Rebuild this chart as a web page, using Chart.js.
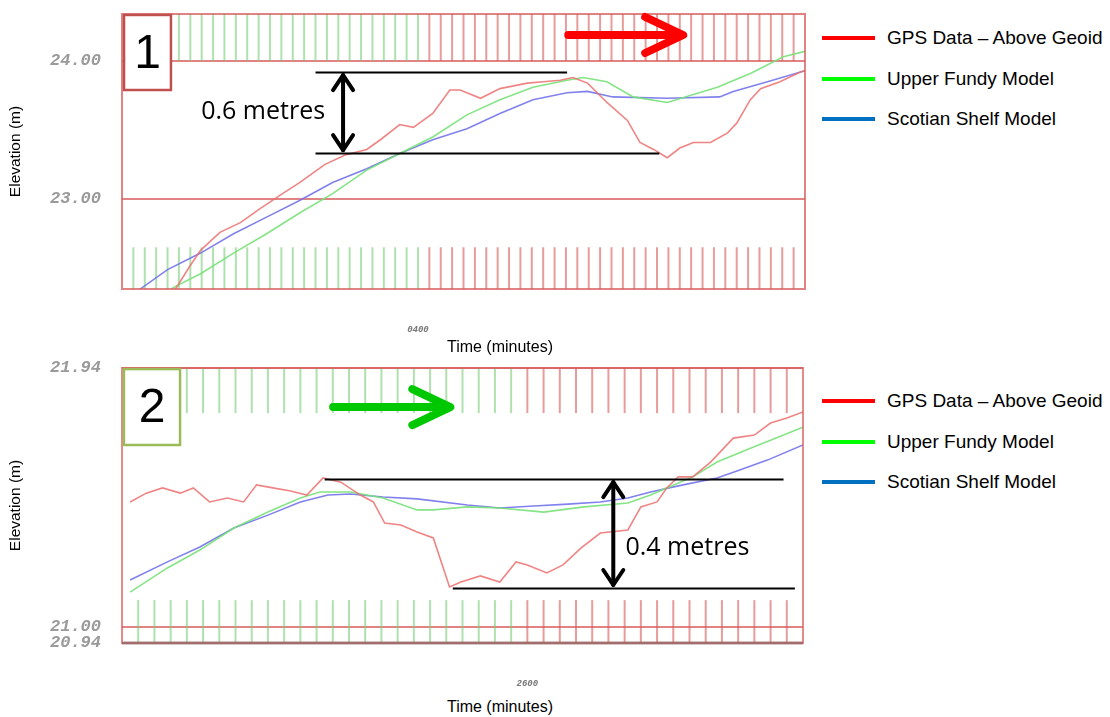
<!DOCTYPE html>
<html>
<head>
<meta charset="UTF-8">
<title>GPS elevation vs tide models</title>
<style>
    body {
        margin: 0;
        background: #fff;
        font-family: 'Liberation Sans', Arial, sans-serif;
    }
    #page {
        position: relative;
        width: 1110px;
        height: 717px;
        overflow: hidden;
    }
    .chartBox {
        position: absolute;
        left: 0;
        width: 810px;
        height: 339px;
    }
    .xTitle {
        position: absolute;
        font-size: 16px;
        transform: translate(-50%, -50%);
        white-space: nowrap;
    }
    .legend {
        position: absolute;
        left: 822px;
    }
    .legend .row {
        display: flex;
        align-items: center;
        height: 40.5px;
        font-size: 19px;
        white-space: nowrap;
    }
    .legend .swatch {
        width: 53px;
        height: 4px;
        margin-right: 12px;
    }
</style>
<script src="https://cdn.jsdelivr.net/npm/chart.js"></script>
</head>
<body>

<div id="page">
    <div class="chartBox" style="top:0px"><canvas id="chartTop"></canvas></div>
    <div class="chartBox" style="top:354px"><canvas id="chartBottom"></canvas></div>
    <div class="xTitle" style="left:500px; top:347px">Time (minutes)</div>
    <div class="xTitle" style="left:500px; top:707px">Time (minutes)</div>
    <div class="legend" id="legendTop" style="top:17.75px"></div>
    <div class="legend" id="legendBottom" style="top:380.75px"></div>
</div>

<script>
const seriesNames = ['GPS Data – Above Geoid', 'Upper Fundy Model', 'Scotian Shelf Model'];

// chart 1
const topGpsTime   = [3.8, 4.7, 6.0, 6.9, 8.6, 10.4, 12.1, 14.1, 15.6, 17.8, 19.6, 21.5, 22.7, 24.4, 25.6, 27.3, 28.8, 29.7, 31.5, 33.2,
                      35.6, 37.0, 38.5, 39.6, 40.9, 42.6, 44.4, 45.5, 46.7, 47.9, 49.0, 50.2, 51.7, 53.2, 54.0, 55.2, 56.1, 57.8, 59.6, 60];
const topGpsElev   = [22.27, 22.35, 22.52, 22.63, 22.76, 22.83, 22.93, 23.04, 23.12, 23.25, 23.32, 23.36, 23.43, 23.54, 23.52, 23.62, 23.79, 23.79, 23.73, 23.80,
                      23.84, 23.85, 23.86, 23.88, 23.84, 23.70, 23.57, 23.41, 23.36, 23.30, 23.37, 23.41, 23.41, 23.48, 23.55, 23.72, 23.80, 23.85, 23.92, 23.93];
const topFundyTime = [3.3, 4.5, 6.9, 9.8, 12.7, 15.6, 18.5, 21.5, 24.4, 27.3, 30.3, 33.2, 36.1, 39.1, 40.5, 42.6, 44.9, 47.9, 49.9, 52.3, 55.2, 58.1, 60];
const topFundyElev = [22.27, 22.36, 22.46, 22.61, 22.75, 22.90, 23.04, 23.21, 23.33, 23.45, 23.61, 23.72, 23.81, 23.86, 23.88, 23.85, 23.74, 23.70, 23.75, 23.81, 23.91, 24.03, 24.07];
const topShelfTime = [0, 1.6, 4.0, 6.9, 9.8, 12.7, 15.6, 18.5, 21.5, 24.4, 27.3, 30.3, 33.2, 36.1, 39.1, 40.9, 43.1, 47.9, 52.5, 53.7, 56.7, 60];
const topShelfElev = [22.22, 22.35, 22.49, 22.61, 22.75, 22.87, 22.99, 23.12, 23.22, 23.33, 23.43, 23.51, 23.62, 23.72, 23.77, 23.78, 23.74, 23.73, 23.74, 23.78, 23.85, 23.93];
const topYTicks = [23.00, 24.00];
const topTimeTick = 26;
const topTimeLabel = '0400';

// chart 2
const botGpsTime   = [0.5, 1.5, 2.5, 3.6, 4.4, 5.4, 6.5, 7.5, 8.3, 9.3, 10.4, 11.4, 12.4, 13.5, 14.7, 15.5, 16.2, 17.2, 18.2, 19.2, 20.2,
                      20.9, 22.1, 23.3, 24.3, 25.0, 26.2, 27.2, 28.3, 29.5, 31.2, 32.0, 33.0, 33.6, 34.3, 35.2, 36.3, 37.7, 39.0, 40.0, 41.0, 42.0];
const botGpsElev   = [21.453, 21.485, 21.504, 21.485, 21.504, 21.453, 21.467, 21.453, 21.515, 21.504, 21.493, 21.478, 21.540, 21.525, 21.478, 21.453, 21.376, 21.369, 21.344, 21.322, 21.144,
                      21.162, 21.184, 21.162, 21.235, 21.224, 21.195, 21.224, 21.285, 21.340, 21.351, 21.435, 21.453, 21.504, 21.544, 21.544, 21.598, 21.685, 21.696, 21.740, 21.758, 21.780];
const botFundyTime = [0.5, 2.8, 4.8, 6.9, 9.0, 11.0, 12.2, 14.1, 16.1, 18.2, 19.2, 21.3, 23.3, 26.0, 28.5, 31.2, 32.6, 33.6, 35.2, 36.7, 38.8, 40.8, 42.0];
const botFundyElev = [21.125, 21.213, 21.278, 21.358, 21.416, 21.467, 21.489, 21.489, 21.467, 21.424, 21.424, 21.435, 21.431, 21.416, 21.435, 21.449, 21.478, 21.504, 21.544, 21.598, 21.649, 21.696, 21.725];
const botShelfTime = [0.5, 2.8, 4.8, 6.9, 9.0, 11.0, 12.7, 14.1, 16.1, 18.2, 21.3, 23.3, 25.4, 27.5, 29.5, 31.2, 32.6, 34.6, 36.7, 38.1, 39.8, 42.0];
const botShelfElev = [21.169, 21.235, 21.289, 21.358, 21.405, 21.453, 21.478, 21.482, 21.471, 21.464, 21.442, 21.431, 21.438, 21.445, 21.453, 21.467, 21.489, 21.515, 21.540, 21.569, 21.605, 21.660];
const botYTicks = [20.94, 21.00, 21.94];
const botTimeTick = 25;
const botTimeLabel = '2600';

const HATCH_GREEN = 'rgba(120, 205, 120, 0.6)';
const HATCH_RED = 'rgba(215, 90, 90, 0.6)';
const LINE_COLOURS = ['rgba(236, 110, 110, 0.85)', 'rgba(120, 225, 120, 0.9)', 'rgba(115, 115, 235, 0.9)'];
const LEGEND_COLOURS = ['#ff0000', '#00ff00', '#0070c0'];

function pairs(xs, ys) {
    return xs.map((x, i) => ({x: x, y: ys[i]}));
}

function chevron(ctx, tx, ty, dx, dy, len, half) {
    ctx.beginPath();
    ctx.moveTo(tx - dx * len - dy * half, ty - dy * len + dx * half);
    ctx.lineTo(tx, ty);
    ctx.lineTo(tx - dx * len + dy * half, ty - dy * len - dx * half);
    ctx.stroke();
}

// hatched bands, frame and the hand drawn marks on top
const overlay = {
    id: 'overlay',
    beforeDatasetsDraw(chart, args, o) {
        const {ctx, scales: {x, y}} = chart;
        ctx.save();
        ctx.lineWidth = 2;
        x.ticks.forEach(t => {
            if (t.value <= x.min || t.value >= x.max) return;
            const px = x.getPixelForValue(t.value);
            ctx.strokeStyle = t.value < o.split ? HATCH_GREEN : HATCH_RED;
            o.bands.forEach(b => {
                ctx.beginPath();
                ctx.moveTo(px, y.getPixelForValue(b[0]));
                ctx.lineTo(px, y.getPixelForValue(b[1]));
                ctx.stroke();
            });
        });
        ctx.restore();
    },
    afterDatasetsDraw(chart, args, o) {
        const {ctx, chartArea: a, scales: {x, y}} = chart;
        ctx.save();
        ctx.lineWidth = 2;
        ctx.strokeStyle = o.frame;
        ctx.strokeRect(a.left, a.top, a.width, a.height);
        if (o.frameBottom) {
            ctx.strokeStyle = o.frameBottom;
            ctx.lineWidth = 3;
            ctx.beginPath();
            ctx.moveTo(a.left, a.bottom);
            ctx.lineTo(a.right, a.bottom);
            ctx.stroke();
        }

        // numbered box
        const b = o.box;
        const bx0 = x.getPixelForValue(b.x0), bx1 = x.getPixelForValue(b.x1);
        const by0 = y.getPixelForValue(b.y1), by1 = y.getPixelForValue(b.y0);
        ctx.fillStyle = '#fff';
        ctx.fillRect(bx0, by0, bx1 - bx0, by1 - by0);
        ctx.strokeStyle = b.colour;
        ctx.lineWidth = 2.5;
        ctx.strokeRect(bx0, by0, bx1 - bx0, by1 - by0);
        ctx.fillStyle = '#000';
        ctx.font = '48px "Liberation Sans", Arial, sans-serif';
        ctx.textAlign = 'center';
        ctx.textBaseline = 'middle';
        ctx.fillText(b.text, (bx0 + bx1) / 2, (by0 + by1) / 2 + 2);

        // direction arrow
        const r = o.arrow;
        const ax0 = x.getPixelForValue(r.x0), ax1 = x.getPixelForValue(r.x1), ay = y.getPixelForValue(r.y);
        ctx.strokeStyle = r.colour;
        ctx.lineWidth = 8;
        ctx.lineCap = 'round';
        ctx.lineJoin = 'round';
        ctx.beginPath();
        ctx.moveTo(ax0, ay);
        ctx.lineTo(ax1 - 3, ay);
        ctx.stroke();
        chevron(ctx, ax1, ay, 1, 0, 38, 18);

        // measured difference
        const g = o.gauge;
        ctx.strokeStyle = '#000';
        ctx.lineCap = 'butt';
        ctx.lineWidth = 2;
        g.lines.forEach(l => {
            const yy = Math.round(y.getPixelForValue(l[2])) + 0.5;
            ctx.beginPath();
            ctx.moveTo(x.getPixelForValue(l[0]), yy);
            ctx.lineTo(x.getPixelForValue(l[1]), yy);
            ctx.stroke();
        });
        const gx = x.getPixelForValue(g.x);
        const gy0 = y.getPixelForValue(g.lines[0][2]) + 3;
        const gy1 = y.getPixelForValue(g.lines[1][2]) - 3;
        ctx.lineWidth = 4;
        ctx.lineCap = 'round';
        ctx.beginPath();
        ctx.moveTo(gx, gy0);
        ctx.lineTo(gx, gy1);
        ctx.stroke();
        chevron(ctx, gx, gy0, 0, -1, 15, 10);
        chevron(ctx, gx, gy1, 0, 1, 15, 10);
        ctx.fillStyle = '#000';
        ctx.font = '25px "Open Sans", sans-serif';
        ctx.textAlign = g.align;
        ctx.textBaseline = 'middle';
        ctx.fillText(g.text, x.getPixelForValue(g.textX), y.getPixelForValue(g.textY));
        ctx.restore();
    }
};

function makeChart(id, series, yMin, yMax, yTicks, xMax, timeTick, timeLabel, marks, padRight) {
    const ctx = document.getElementById(id).getContext('2d');
    return new Chart(ctx, {
        type: 'line',
        data: {
            datasets: series.map((s, i) => ({
                label: seriesNames[i],
                data: s,
                borderColor: LINE_COLOURS[i],
                borderWidth: 1.6,
                pointRadius: 0,
                fill: false,
                tension: 0
            }))
        },
        options: {
            responsive: true,
            maintainAspectRatio: false,
            animation: false,
            layout: { padding: { top: 14, right: padRight, left: 0, bottom: 0 } },
            plugins: {
                legend: { display: false },
                tooltip: { enabled: false },
                overlay: marks
            },
            scales: {
                x: {
                    type: 'linear',
                    min: 0,
                    max: xMax,
                    grid: { display: false },
                    border: { display: false },
                    ticks: {
                        stepSize: 1,
                        autoSkip: false,
                        maxRotation: 0,
                        padding: 27,
                        color: '#777',
                        font: { family: 'Liberation Mono', size: 9, style: 'italic', weight: 'bold' },
                        callback: v => v === timeTick ? timeLabel : ''
                    },
                    afterFit: s => {
                        s.height = 50;
                        s.paddingLeft = 0;
                        s.paddingRight = 0;
                    }
                },
                y: {
                    min: yMin,
                    max: yMax,
                    afterBuildTicks: s => { s.ticks = yTicks.map(v => ({value: v})); },
                    grid: { color: 'rgba(215, 90, 90, 0.75)', lineWidth: 2, drawTicks: false },
                    border: { display: false },
                    ticks: {
                        padding: 21,
                        color: '#9a9a9a',
                        font: { family: 'Liberation Mono', size: 17, style: 'italic', weight: 'bold' },
                        callback: v => v.toFixed(2)
                    },
                    title: {
                        display: true,
                        text: 'Elevation (m)',
                        color: '#000',
                        padding: { top: 6, bottom: 0 },
                        font: { family: 'Liberation Sans', size: 15.5 }
                    },
                    afterFit: s => {
                        s.width = 122;
                        s.paddingTop = 0;
                        s.paddingBottom = 0;
                    }
                }
            }
        },
        plugins: [overlay]
    });
}

makeChart('chartTop',
    [pairs(topGpsTime, topGpsElev), pairs(topFundyTime, topFundyElev), pairs(topShelfTime, topShelfElev)],
    22.35, 24.34, topYTicks, 60, topTimeTick, topTimeLabel,
    {
        split: 26.4,
        bands: [[24.0, 24.34], [22.35, 22.652]],
        frame: 'rgba(215, 90, 90, 0.75)',
        box: { x0: 0.18, x1: 4.3, y0: 23.79, y1: 24.333, colour: '#c0504d', text: '1' },
        arrow: { x0: 39.2, x1: 49.3, y: 24.188, colour: '#ff0000' },
        gauge: { lines: [[17.0, 39.1, 23.92], [17.0, 47.2, 23.333]], x: 19.42, text: '0.6 metres', textX: 17.84, textY: 23.63, align: 'right' }
    }, 5);

makeChart('chartBottom',
    [pairs(botGpsTime, botGpsElev), pairs(botFundyTime, botFundyElev), pairs(botShelfTime, botShelfElev)],
    20.94, 21.94, botYTicks, 42, botTimeTick, botTimeLabel,
    {
        split: 24.5,
        bands: [[21.776, 21.94], [20.94, 21.096]],
        frame: 'rgba(215, 90, 90, 0.7)',
        frameBottom: 'rgba(150, 110, 110, 0.8)',
        box: { x0: 0.12, x1: 3.58, y0: 21.66, y1: 21.936, colour: '#9bbb59', text: '2' },
        arrow: { x0: 13.02, x1: 20.25, y: 21.798, colour: '#00c800' },
        gauge: { lines: [[12.5, 40.8, 21.536], [20.4, 41.5, 21.14]], x: 30.3, text: '0.4 metres', textX: 31.05, textY: 21.285, align: 'left' }
    }, 7);

['legendTop', 'legendBottom'].forEach(id => {
    const box = document.getElementById(id);
    seriesNames.forEach((name, i) => {
        const row = document.createElement('div');
        row.className = 'row';
        row.innerHTML = `<span class="swatch" style="background:${LEGEND_COLOURS[i]}"></span><span>${name}</span>`;
        box.appendChild(row);
    });
});
</script>

</body>
</html>
